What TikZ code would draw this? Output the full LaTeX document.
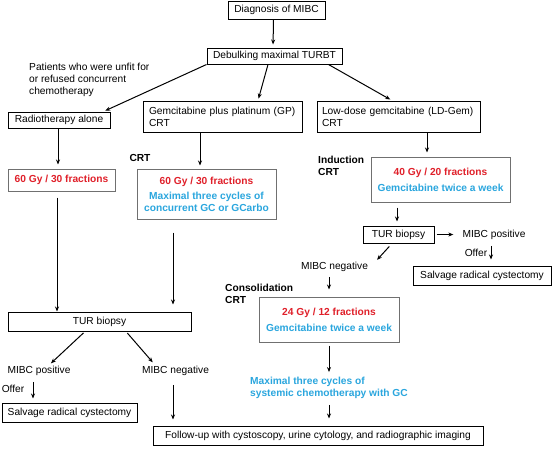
\documentclass[tikz,border=0pt]{standalone}
\usepackage{fontspec}
\setmainfont{Liberation Sans}
\usetikzlibrary{arrows.meta,calc}
\definecolor{cred}{HTML}{E0202A}
\definecolor{cblue}{HTML}{2AA6DE}
\definecolor{cgray}{HTML}{707070}
\begin{document}
\begin{tikzpicture}[x=1pt,y=-1pt,
  font=\fontsize{10.2}{12}\selectfont,
  box/.style={draw=black,line width=1pt,rectangle,inner sep=0pt,align=center},
  cbox/.style={draw=cgray,line width=1pt,rectangle,inner sep=0pt,align=center},
  lbox/.style={draw=black,line width=1pt,rectangle,inner ysep=0pt,align=left},
  arr/.style={-{Stealth[length=5pt,width=4pt]},line width=1pt},
  lbl/.style={inner sep=0pt,align=left},
  rtxt/.style={text=cred,font=\fontsize{10.2}{12}\selectfont\bfseries},
  btxt/.style={text=cblue,font=\fontsize{10.2}{12}\selectfont\bfseries},
  bold/.style={font=\fontsize{10.2}{12}\selectfont\bfseries}]
\fill[white] (0,0) rectangle (553,448);
\useasboundingbox (0,0) rectangle (553,448);

% boxes
\node[box,minimum width=97pt,minimum height=18pt] (diag) at (276.5,10) {Diagnosis of MIBC};
\node[box,minimum width=135pt,minimum height=16pt] (deb) at (274.5,56) {Debulking maximal TURBT};
\node[box,minimum width=102pt,minimum height=16pt] (rt) at (59,120) {Radiotherapy alone};
\node[lbox,text width=147pt,inner xsep=6pt,minimum height=31pt] (gp) at (222.5,116.5) {Gemcitabine plus platinum (GP)\\CRT};
\node[lbox,text width=153pt,inner xsep=5pt,minimum height=31pt] (ld) at (398.5,116.5) {Low-dose gemcitabine (LD-Gem)\\CRT};
\node[cbox,minimum width=107pt,minimum height=22pt,rtxt] (rt60) at (61.5,180) {60 Gy / 30 fractions};
\node[cbox,minimum width=139pt,minimum height=50pt] (gp60) at (206.5,194)
  {\textcolor{cred}{\bfseries 60 Gy / 30 fractions}\\[3pt]
   \textcolor{cblue}{\bfseries Maximal three cycles of}\\
   \textcolor{cblue}{\bfseries concurrent GC or GCarbo}};
\node[cbox,minimum width=139pt,minimum height=45pt] (ind) at (440.5,179.5)
  {\textcolor{cred}{\bfseries 40 Gy / 20 fractions}\\[4pt]
   \textcolor{cblue}{\bfseries Gemcitabine twice a week}};
\node[box,minimum width=71pt,minimum height=17pt] (turR) at (398.5,234.5) {TUR biopsy};
\node[box,minimum width=138pt,minimum height=19pt] (salvR) at (482,275.5) {Salvage radical cystectomy};
\node[cbox,minimum width=140pt,minimum height=45pt] (cons) at (329,319.5)
  {\textcolor{cred}{\bfseries 24 Gy / 12 fractions}\\[4pt]
   \textcolor{cblue}{\bfseries Gemcitabine twice a week}};
\node[box,minimum width=183pt,minimum height=19pt] (turL) at (99.5,321.5) {TUR biopsy};
\node[box,minimum width=135pt,minimum height=19pt] (salvL) at (69.5,412.5) {Salvage radical cystectomy};
\node[box,minimum width=330pt,minimum height=19pt] (fu) at (318,435.5) {Follow-up with cystoscopy, urine cytology, and radiographic imaging};

% labels
\node[lbl,anchor=west] (pat) at (29,79.5) {Patients who were unfit for\\or refused concurrent\\chemotherapy};
\node[lbl,bold] (crt1) at (140,158) {CRT};
\node[lbl,bold,anchor=west] (indl) at (318,166) {Induction\\CRT};
\node[lbl] (mpR) at (494,235) {MIBC positive};
\node[lbl] (offR) at (476,253) {Offer};
\node[lbl] (mnR) at (334.5,267) {MIBC negative};
\node[lbl,bold,anchor=west] (consl) at (225,293.5) {Consolidation\\CRT};
\node[lbl,btxt,anchor=west] (maxs) at (250,388) {Maximal three cycles of\\systemic chemotherapy with GC};
\node[lbl] (mpL) at (39,371) {MIBC positive};
\node[lbl] (mnL) at (175.5,371) {MIBC negative};
\node[lbl] (offL) at (13,389) {Offer};

% connectors
\draw[arr,shorten >=3pt] ($(diag.south)+(-3,0)$) -- ($(deb.north)+(-1.5,0)$);
\draw[arr,shorten >=2pt] (deb.south west) -- ($(rt.north east)+(-7,0)$);
\draw[arr,shorten >=2pt] ($(deb.south)+(-6.5,0)$) -- ($(gp.north)+(35.5,0)$);
\draw[arr,shorten >=2pt] ($(deb.south east)+(-14,0)$) -- ($(ld.north)+(-6.5,0)$);
\draw[arr,shorten >=4pt] ($(rt.south)+(-1,0)$) -- ($(rt60.north)+(-3.5,0)$);
\draw[arr,shorten >=3pt] ($(gp.south)+(-22.5,0)$) -- ($(gp60.north)+(-6.5,0)$);
\draw[arr,shorten >=4pt] ($(ld.south)+(28.5,0)$) -- ($(ind.north)+(-13.5,0)$);
\draw[arr,shorten <=6pt] ($(rt60.south)+(-4.5,0)$) -- ($(turL.north)+(-42.5,0)$);
\draw[arr,shorten <=13pt,shorten >=7pt] ($(gp60.south)+(-33.5,0)$) -- ($(turL.north)+(73.5,0)$);
\draw[arr,shorten <=5pt,shorten >=4pt] ($(ind.south)+(-43.5,0)$) -- ($(turR.north)+(-1.5,0)$);
\draw[arr,shorten <=2pt,shorten >=9pt] (turR.east) -- (turR.east -| mpR.west);
\draw[arr,shorten <=6pt,shorten >=6pt] ($(mpR.south)+(-3,0)$) -- ($(salvR.north)+(9,0)$);
\draw[arr,shorten <=4pt,shorten >=3pt] ($(turR.south)+(-6.5,0)$) -- ($(mnR.north)+(40.5,0)$);
\draw[arr,shorten <=5pt,shorten >=7pt] ($(mnR.south)+(-5.5,0)$) -- (cons.north);
\draw[arr,shorten <=3pt,shorten >=5pt] (cons.south) -- (cons.south |- maxs.north);
\draw[arr,shorten <=6pt,shorten >=7pt] (cons.south |- maxs.south) -- (cons.south |- fu.north);
\draw[arr,shorten <=2pt,shorten >=4pt] ($(turL.south)+(-14.5,0)$) -- ($(mpL.north)+(9,0)$);
\draw[arr,shorten <=2pt,shorten >=5pt] ($(turL.south)+(26.5,0)$) -- ($(mnL.north)+(-19.5,0)$);
\draw[arr,shorten <=6pt,shorten >=4pt] ($(mpL.south)+(-6,0)$) -- ($(salvL.north)+(-36.5,0)$);
\draw[arr,shorten <=9pt,shorten >=6pt] ($(mnL.south)+(-2.5,0)$) -- ($(fu.north)+(-145,0)$);
\end{tikzpicture}
\end{document}
